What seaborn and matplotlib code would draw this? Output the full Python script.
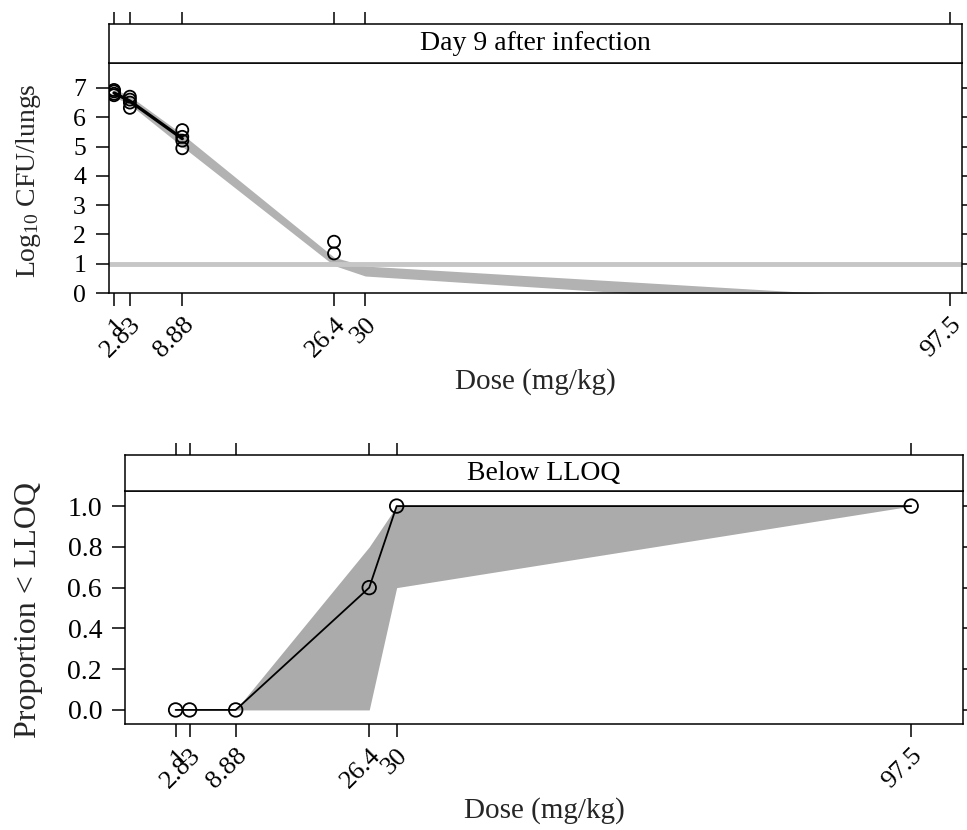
import numpy as np
import pandas as pd
import matplotlib
matplotlib.use("Agg")
import matplotlib.pyplot as plt
import seaborn as sns

# ==========================================
# DATA
# ==========================================
DOSES = [1, 2.83, 8.88, 26.4, 30, 97.5]
DOSE_LABELS = ["1", "2.83", "8.88", "26.4", "30", "97.5"]

# Day 9 observed log10 CFU
cfu_dose = [1, 1, 1, 1, 2.83, 2.83, 2.83, 2.83, 8.88, 8.88, 8.88, 8.88, 26.4, 26.4]
cfu_obs = [6.93, 6.88, 6.80, 6.75, 6.70, 6.60, 6.50, 6.32, 5.56, 5.33, 5.20, 4.94, 1.75, 1.35]
med_dose = [1, 2.83, 8.88]
med_cfu = [6.83, 6.55, 5.27]
cfu_lo = [6.70, 6.43, 5.00, 0.94, 0.58, -0.72]
cfu_hi = [6.97, 6.72, 5.42, 1.22, 0.92, -0.27]
LLOQ = 1.0

# Proportion below LLOQ
prop_obs = [0.0, 0.0, 0.0, 0.6, 1.0, 1.0]
prop_lo = [0.0, 0.0, 0.0, 0.0, 0.6, 1.0]
prop_hi = [0.0, 0.0, 0.0, 0.8, 1.0, 1.0]

# ==========================================
# STYLE
# ==========================================
sns.set_style("white")
plt.rcParams["font.family"] = ["Liberation Serif", "DejaVu Serif"]
plt.rcParams["mathtext.default"] = "regular"
plt.rcParams["axes.linewidth"] = 1.1
plt.rcParams["xtick.major.width"] = 1.1
plt.rcParams["ytick.major.width"] = 1.1
plt.rcParams["xtick.major.size"] = 9.5
plt.rcParams["ytick.major.size"] = 9.5
plt.rcParams["xtick.direction"] = "out"
plt.rcParams["ytick.direction"] = "out"
plt.rcParams["axes.edgecolor"] = "black"
plt.rcParams["text.color"] = "black"
plt.rcParams["xtick.color"] = "black"
plt.rcParams["ytick.color"] = "black"

BAND_TOP = "#b2b2b2"
LLOQ_COL = "#c6c6c6"
BAND_BOT = "#ababab"

fig = plt.figure(figsize=(9.67, 8.3), dpi=100)


def panel(rect, strip_h, xlim, ylim, title, ysize):
    l, b, w, h = rect
    ax = fig.add_axes([l, b, w, h])
    st = fig.add_axes([l, b + h, w, strip_h], sharex=ax)
    ax.set_xlim(*xlim)
    ax.set_ylim(*ylim)
    ax.set_xticks(DOSES)
    ax.set_xticklabels(DOSE_LABELS, rotation=45, ha="right", va="top",
                       rotation_mode="anchor")
    ax.tick_params(axis="x", bottom=True, top=False, labelsize=19, pad=5)
    ax.tick_params(axis="y", left=True, right=True, labelright=False,
                   labelsize=ysize, pad=7)
    st.set_yticks([])
    st.tick_params(axis="x", bottom=False, top=True, labelbottom=False,
                   labeltop=False, length=9)
    st.text(0.5, 0.5, title, transform=st.transAxes, ha="center", va="center",
            fontsize=20)
    return ax


# ==========================================
# TOP PANEL: log10 CFU
# ==========================================
ax1 = panel([109 / 967, 1 - 293 / 830, 853 / 967, 230 / 830], 38.5 / 830,
            (0.42, 98.9), (0, 7.85), "Day 9 after infection", 18.5)

ax1.fill_between(DOSES, cfu_lo, cfu_hi, color=BAND_TOP, lw=0, zorder=1)
ax1.axhline(LLOQ, color=LLOQ_COL, lw=3.5, zorder=2)
sns.lineplot(x=med_dose, y=med_cfu, ax=ax1, color="black", lw=2.4, zorder=3)
sns.scatterplot(x=cfu_dose, y=cfu_obs, ax=ax1, s=75, marker="o",
                facecolor="none", edgecolor="black", linewidth=1.3, zorder=4)
ax1.set_yticks(range(0, 8))
ax1.set_ylabel(r"Log$_{10}$ CFU/lungs", fontsize=20)
ax1.yaxis.label.set_va("center")
ax1.yaxis.set_label_coords(-80 / 853, 0.49)
ax1.set_xlabel("Dose (mg/kg)", fontsize=21)
ax1.xaxis.set_label_coords(0.5, -0.387)
ax1.xaxis.label.set_va("center")

# ==========================================
# BOTTOM PANEL: proportion below LLOQ
# ==========================================
ax2 = panel([125 / 967, 1 - 724 / 830, 838 / 967, 233 / 830], 36 / 830,
            (-5.64, 104.3), (-0.069, 1.074), "Below LLOQ", 20)

ax2.fill_between(DOSES, prop_lo, prop_hi, color=BAND_BOT, lw=0, zorder=1)
sns.lineplot(x=DOSES, y=prop_obs, ax=ax2, color="black", lw=1.3, zorder=3)
sns.scatterplot(x=DOSES, y=prop_obs, ax=ax2, s=95, marker="o",
                facecolor="none", edgecolor="black", linewidth=1.3, zorder=4)
ax2.set_yticks(np.arange(0, 1.01, 0.2))
ax2.set_yticklabels([f"{v:.1f}" for v in np.arange(0, 1.01, 0.2)])
ax2.set_ylabel("Proportion < LLOQ", fontsize=23)
ax2.yaxis.label.set_va("center")
ax2.yaxis.set_label_coords(-96 / 838, 0.49)
ax2.set_xlabel("Dose (mg/kg)", fontsize=21)
ax2.xaxis.set_label_coords(0.5, -0.37)
ax2.xaxis.label.set_va("center")

fig.savefig("out.png", dpi=100)
